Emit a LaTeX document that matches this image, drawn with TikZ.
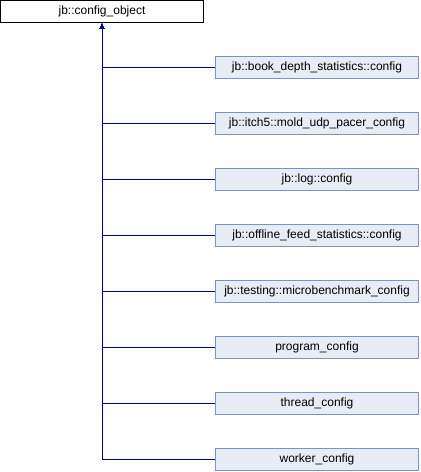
\documentclass[tikz,border=0pt]{standalone}
\usepackage{fontspec}
\setmainfont{Liberation Sans}
\usetikzlibrary{arrows.meta}
\definecolor{boxfill}{RGB}{232,236,245}
\definecolor{boxline}{RGB}{122,146,204}
\definecolor{edgeline}{RGB}{0,0,160}
\tikzset{
    base/.style ={
        shape=rectangle,
        draw=black,
        fill=white,
        line width=1bp,
        inner sep=0pt,
        minimum width=203bp,
        minimum height=22bp,
        font=\fontsize{12bp}{14bp}\selectfont
    },
    derived/.style ={
        shape=rectangle,
        draw=boxline,
        fill=boxfill,
        line width=1bp,
        inner sep=0pt,
        minimum width=203bp,
        minimum height=22bp,
        font=\fontsize{12bp}{14bp}\selectfont
    },
    inherit/.style ={
        draw=edgeline,
        line width=1bp,
        -{Latex[length=6bp,width=5bp]}
    }
}

\begin{document}
\begin{tikzpicture}[x=1bp,y=-1bp]
    \useasboundingbox (0,0) rectangle (420,472);
    \node[base] (configobj) at(102,11.5) {jb::config\_object};
    \node[derived] (bookdepth) at(317,67.5) {jb::book\_depth\_statistics::config};
    \node[derived] (moldudp) at(317,123.5) {jb::itch5::mold\_udp\_pacer\_config};
    \node[derived] (logcfg) at(317,179.5) {jb::log::config};
    \node[derived] (offlinefeed) at(317,235.5) {jb::offline\_feed\_statistics::config};
    \node[derived] (microbench) at(317,291.5) {jb::testing::microbenchmark\_config};
    \node[derived] (program) at(317,347.5) {program\_config};
    \node[derived] (thread) at(317,403.5) {thread\_config};
    \node[derived] (worker) at(317,459.5) {worker\_config};
    \draw[inherit] (worker.west) -| (configobj.south);
    \draw[inherit] (thread.west) -| (configobj.south);
    \draw[inherit] (program.west) -| (configobj.south);
    \draw[inherit] (microbench.west) -| (configobj.south);
    \draw[inherit] (offlinefeed.west) -| (configobj.south);
    \draw[inherit] (logcfg.west) -| (configobj.south);
    \draw[inherit] (moldudp.west) -| (configobj.south);
    \draw[inherit] (bookdepth.west) -| (configobj.south);
\end{tikzpicture}
\end{document}
